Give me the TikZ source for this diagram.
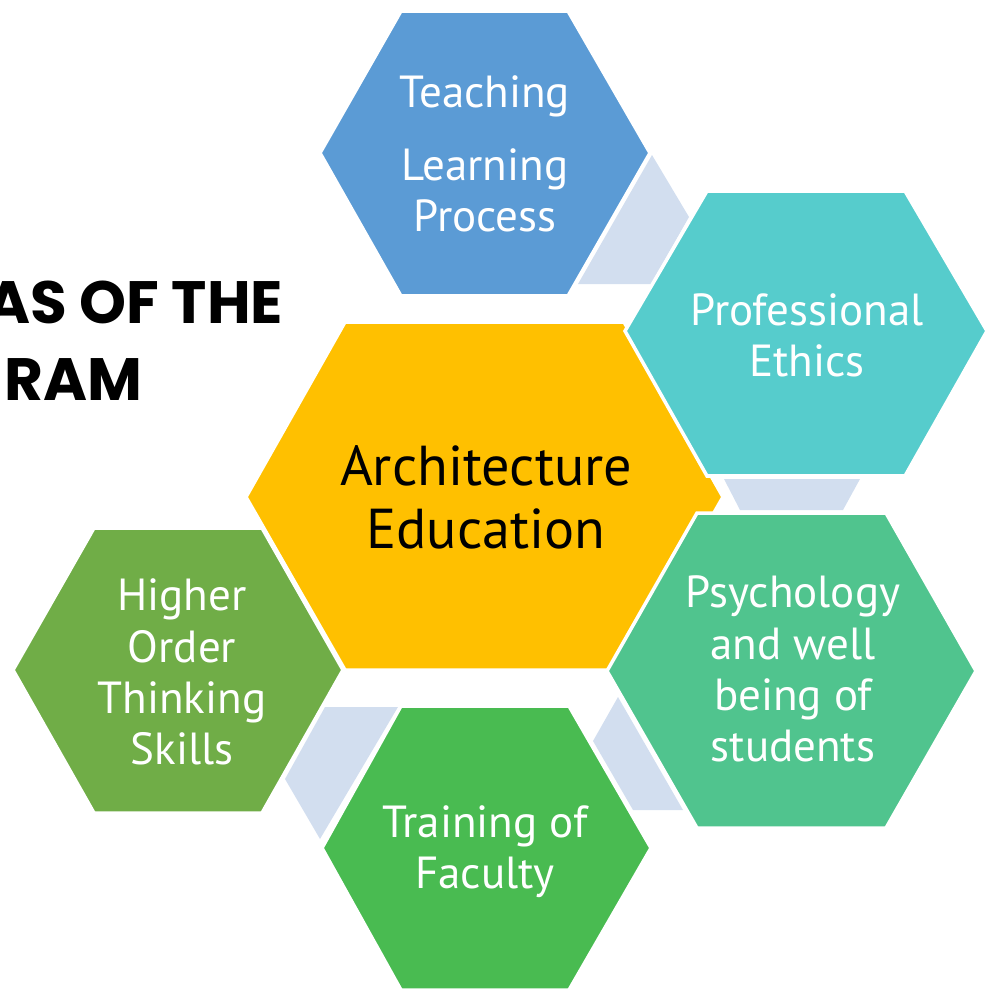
\documentclass[tikz,border=0pt]{standalone}
\usepackage{fontspec}
\setmainfont{PT Sans}
\newfontfamily\headfont{Poppins}
\definecolor{teachblue}{HTML}{5B9BD5}
\definecolor{ethicteal}{HTML}{56CCCC}
\definecolor{psychgreen}{HTML}{50C48E}
\definecolor{hotsgreen}{HTML}{70AD47}
\definecolor{traingreen}{HTML}{49BB51}
\definecolor{archyellow}{HTML}{FFC000}
\definecolor{linkgrey}{HTML}{D2DEEF}

\begin{document}
\begin{tikzpicture}[scale=0.1]
	\tikzstyle{every node}+=[inner sep=0pt]
	\tikzstyle{hex}=[draw=white, line width=1pt, line join=miter]
	\tikzstyle{hextext}=[text=white, align=center, font=\fontsize{12.8}{14.6}\selectfont]
	\clip (0,0) rectangle (99.1,-98.8);
	% links behind the cells
	\fill [linkgrey] (57.8,-28.4) -- (65.2,-15.5) -- (68.9,-21.7) -- (65.1,-28.4) -- cycle;
	\fill [linkgrey] (72.4,-47.9) -- (86.0,-47.9) -- (84.3,-51.0) -- (74.0,-51.0) -- cycle;
	\fill [linkgrey] (61.8,-69.7) -- (59.3,-74.1) -- (63.3,-81.0) -- (68.3,-81.0) -- cycle;
	\fill [linkgrey] (32.5,-70.7) -- (39.8,-70.7) -- (32.0,-83.9) -- (28.5,-77.9) -- cycle;
	% cells
	\draw [hex, fill=archyellow] (34.5,-32.2) -- (62.4,-32.2) -- (72.3,-49.7) -- (62.4,-67.0) -- (34.5,-67.0) -- (24.6,-49.7) -- cycle;
	\draw [hex, fill=teachblue] (40.1,-1.1) -- (56.8,-1.1) -- (65.0,-15.3) -- (56.8,-29.6) -- (40.1,-29.6) -- (32.0,-15.3) -- cycle;
	\draw [hex, fill=ethicteal] (70.7,-19.1) -- (90.5,-19.1) -- (98.7,-33.1) -- (90.5,-47.6) -- (70.7,-47.6) -- (62.5,-33.1) -- cycle;
	\draw [hex, fill=psychgreen] (69.7,-51.3) -- (88.6,-51.3) -- (97.6,-67.1) -- (88.6,-82.8) -- (69.7,-82.8) -- (60.7,-67.1) -- cycle;
	\draw [hex, fill=hotsgreen] (9.4,-52.8) -- (26.2,-52.8) -- (34.3,-67.0) -- (26.2,-81.3) -- (9.4,-81.3) -- (1.3,-67.0) -- cycle;
	\draw [hex, fill=traingreen] (40.1,-70.6) -- (56.9,-70.6) -- (65.1,-84.8) -- (56.9,-99.0) -- (40.1,-99.0) -- (32.2,-84.8) -- cycle;
	% texts
	\node [hextext] (teach) at (48.5,-15.4) {Teaching\\[6pt]Learning\\Process};
	\node [hextext] (ethics) at (80.7,-33.5) {Professional\\Ethics};
	\node [hextext] (psych) at (79.3,-66.9) {Psychology\\and well\\being of\\students};
	\node [hextext] (hots) at (18.2,-67.2) {Higher\\Order\\Thinking\\Skills};
	\node [hextext] (train) at (48.5,-85.2) {Training of\\Faculty};
	\node [align=center, font=\fontsize{16}{18}\selectfont] (arch) at (48.6,-49.7) {Architecture\\Education};
	\node [anchor=base east, font=\headfont\bfseries\fontsize{17}{22}\selectfont] (title1) at (28.4,-32.3) {AS OF THE};
	\node [anchor=base east, font=\headfont\bfseries\fontsize{17}{22}\selectfont] (title2) at (14.3,-40.0) {RAM};
\end{tikzpicture}
\end{document}
